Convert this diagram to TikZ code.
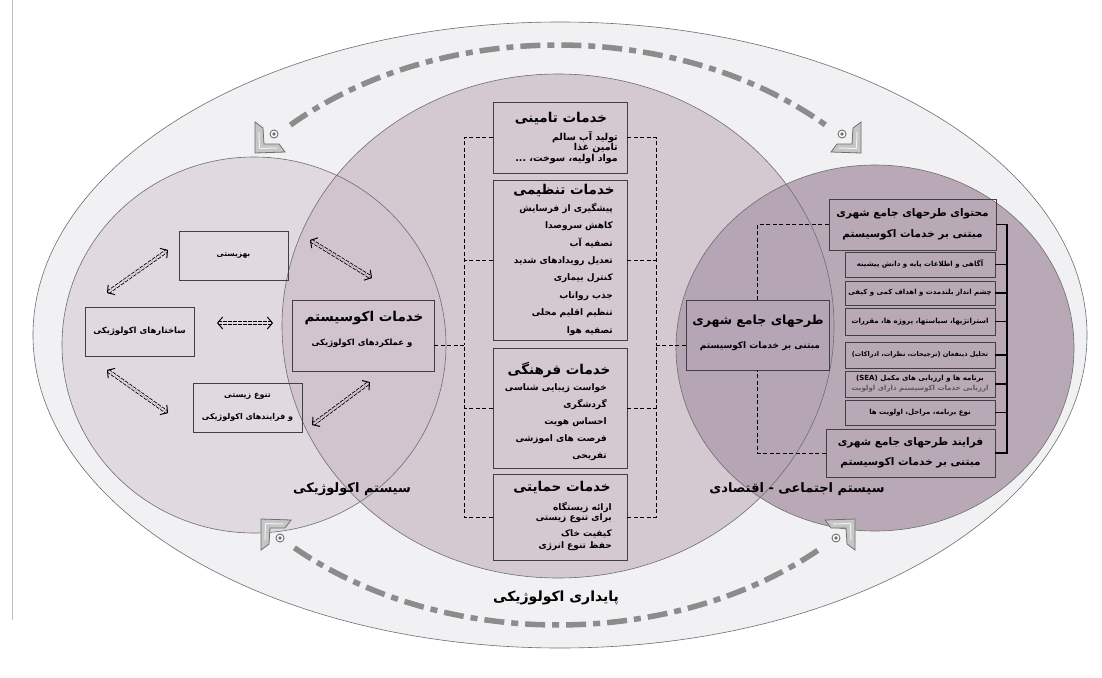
\documentclass[tikz,border=0pt]{standalone}
\usepackage{fontspec}
\newfontfamily\farsi[Script=Arabic]{DejaVu Sans}
\TeXXeTstate=1
\usetikzlibrary{arrows.meta,positioning}
\newcommand{\fatext}[1]{\beginR #1\endR}
\definecolor{outerfill}{HTML}{F1F0F2}
\definecolor{ecofill}{HTML}{E0D9DF}
\definecolor{midfill}{HTML}{CFC1CC}
\definecolor{socfill}{HTML}{B3A2B1}
\definecolor{trackgray}{HTML}{8C8C8C}
\definecolor{rimgray}{HTML}{6E6E6E}
\tikzset{
    trackicon/.pic={
        \draw[rimgray, line width=0.8pt, fill=gray!45]
            (0,0) -- (30,1) -- (24,9) -- (9,9) -- (8,25) -- (0,31) -- cycle;
        \draw[white!90!gray, line width=1pt] (4.5,4.5) -- (22,5) (4.5,4.5) -- (4,21);
        \draw[rimgray, line width=0.9pt, fill=white] (19,19) circle (4pt);
        \fill[rimgray] (19,19) circle (1.8pt);
    }
}
\begin{document}
\begin{tikzpicture}[
                    x=1pt, y=-1pt,
                    rim/.style={draw=rimgray, line width=0.6pt},
                    box/.style={draw=black!75, line width=0.6pt, inner sep=0pt},
                    svcbox/.style={box, minimum width=134pt},
                    sidebox/.style={box, minimum width=150pt},
                    titletext/.style={font=\farsi\bfseries\fontsize{13.5}{15}\selectfont, inner sep=0pt},
                    bodytext/.style={font=\farsi\bfseries\fontsize{9}{17.4}\selectfont, align=right, inner sep=0pt},
                    smalltext/.style={font=\farsi\bfseries\fontsize{7}{9.5}\selectfont, inner sep=0pt, align=center},
                    syslabel/.style={font=\farsi\bfseries\fontsize{13}{15}\selectfont, inner sep=0pt},
                    bracket/.style={draw=black, line width=1pt, dash pattern=on 4pt off 2.5pt},
                    spine/.style={draw=black, line width=1.5pt},
                    track/.style={draw=trackgray, line width=5.5pt, dash pattern=on 20pt off 7pt on 7pt off 7pt},
                    dblarrow/.style={draw=black, line width=0.8pt, double=ecofill, double distance=2.2pt,
                        dash pattern=on 3.5pt off 1.5pt,
                        {Straight Barb[length=5pt, width=12pt, line width=1pt]}-{Straight Barb[length=5pt, width=12pt, line width=1pt]}}
                ]
    \useasboundingbox (0,0) rectangle (1102,677);
    \fill[white] (0,0) rectangle (1102,677);
    \draw[gray!50, line width=0.6pt] (12,0) -- (12,620);

    % circles
    \coordinate (c-outer) at (560,335);
    \coordinate (c-eco) at (254,345);
    \coordinate (c-mid) at (558,326);
    \coordinate (c-soc) at (875,348);
    \fill[outerfill] (c-outer) ellipse [x radius=527pt, y radius=313pt];
    \fill[ecofill] (c-eco) ellipse [x radius=192pt, y radius=188pt];
    \fill[midfill, fill opacity=0.85] (c-mid) ellipse [x radius=276pt, y radius=252pt];
    \fill[socfill, fill opacity=0.9] (c-soc) ellipse [x radius=199pt, y radius=183pt];
    \draw[rim] (c-outer) ellipse [x radius=527pt, y radius=313pt];
    \draw[rim] (c-eco) ellipse [x radius=192pt, y radius=188pt];
    \draw[rim] (c-mid) ellipse [x radius=276pt, y radius=252pt];
    \draw[rim] (c-soc) ellipse [x radius=199pt, y radius=183pt];

    % dashed track
    \coordinate (c-track) at (558,335);
    \draw[track] (c-track) ++(133.6:388pt and 290pt)
        arc [start angle=133.6, end angle=46.4, x radius=388pt, y radius=290pt];
    \draw[track] (c-track) ++(227.2:388pt and 290pt)
        arc [start angle=227.2, end angle=312.8, x radius=388pt, y radius=290pt];
    \pic[yscale=-1] (icon-tl) at (255,153) {trackicon};
    \pic[xscale=-1, yscale=-1] (icon-tr) at (861,153) {trackicon};
    \pic (icon-bl) at (261,519) {trackicon};
    \pic[xscale=-1] (icon-br) at (855,519) {trackicon};

    % ecological side
    \node[box, minimum width=109pt, minimum height=49pt] (welfare) at (233.5,255.5)
        {\farsi\bfseries\fontsize{7.5}{9}\selectfont\fatext{بهزیستی}};
    \node[box, minimum width=109pt, minimum height=49pt] (struct) at (139.5,331.5)
        {\farsi\bfseries\fontsize{8.5}{10}\selectfont\fatext{ساختارهای اکولوژیکی}};
    \node[box, minimum width=109pt, minimum height=49pt, align=center,
          font=\farsi\bfseries\fontsize{8}{22}\selectfont] (biodiv) at (247.5,407.5)
        {\fatext{تنوع زیستی}\\\fatext{و فرایندهای اکولوژیکی}};
    \node[box, minimum width=142pt, minimum height=71pt] (eco) at (363,335.5) {};
    \node[titletext, font=\farsi\bfseries\fontsize{13.5}{15}\selectfont] (ecoT) at (364,318) {\fatext{خدمات اکوسیستم}};
    \node[inner sep=0pt, font=\farsi\bfseries\fontsize{8.5}{10}\selectfont] (ecoS) at (362,343) {\fatext{و عملکردهای اکولوژیکی}};

    \coordinate (a1s) at (107,293); \coordinate (a1e) at (168,250);
    \coordinate (a2s) at (217,323); \coordinate (a2e) at (273,323);
    \coordinate (a3s) at (107,370); \coordinate (a3e) at (168,413);
    \coordinate (a4s) at (310,240); \coordinate (a4e) at (372,278);
    \coordinate (a5s) at (312,425); \coordinate (a5e) at (370,382);
    \foreach \i in {1,...,3}
        \draw[dblarrow] (a\i s) -- (a\i e);
    \foreach \i in {4,5}
        \draw[dblarrow, double=midfill!92!ecofill] (a\i s) -- (a\i e);

    % ecosystem services
    \node[svcbox, minimum height=71pt] (prov) at (560,137.5) {};
    \node[titletext] (provT) at (561,118) {\fatext{خدمات تامینی}};
    \node[bodytext, font=\farsi\bfseries\fontsize{9.5}{10.5}\selectfont, anchor=north east] (provB) at (618,131)
        {\fatext{تولید آب سالم}\\\fatext{تامین غذا}\\\fatext{مواد اولیه، سوخت، ...}};

    \node[svcbox, minimum height=160pt] (reg) at (560,260) {};
    \node[titletext] (regT) at (564,190) {\fatext{خدمات تنظیمی}};
    \node[bodytext, anchor=north east] (regB) at (613,203)
        {\fatext{پیشگیری از فرسایش}\\\fatext{کاهش سروصدا}\\\fatext{تصفیه آب}\\\fatext{تعدیل رویدادهای شدید}\\
         \fatext{کنترل بیماری}\\\fatext{جذب رواناب}\\\fatext{تنظیم اقلیم محلی}\\\fatext{تصفیه هوا}};

    \node[svcbox, minimum height=120pt] (cult) at (560,408) {};
    \node[titletext] (cultT) at (559,370) {\fatext{خدمات فرهنگی}};
    \node[bodytext, font=\farsi\bfseries\fontsize{9}{17}\selectfont, anchor=north east] (cultB) at (607,383)
        {\fatext{خواست زیبایی شناسی}\\\fatext{گردشگری}\\\fatext{احساس هویت}\\\fatext{فرصت های اموزشی}\\\fatext{تفریحی}};

    \node[svcbox, minimum height=86pt] (supp) at (560,517) {};
    \node[titletext] (suppT) at (562,487) {\fatext{خدمات حمایتی}};
    \node[bodytext, font=\farsi\bfseries\fontsize{9}{12}\selectfont, anchor=north east] (suppB) at (612,502)
        {\fatext{ارائه زیستگاه}\\[-2pt]\fatext{برای تنوع زیستی}\\[4pt]\fatext{کیفیت خاک}\\\fatext{حفظ تنوع انرژی}};

    % urban plans
    \node[box, minimum width=143pt, minimum height=70pt] (plan) at (757.5,335) {};
    \node[titletext, font=\farsi\bfseries\fontsize{12.5}{16}\selectfont] (planT) at (758,321) {\fatext{طرحهای جامع شهری}};
    \node[inner sep=0pt, font=\farsi\bfseries\fontsize{9}{11}\selectfont] (planS) at (760,346) {\fatext{مبتنی بر خدمات اکوسیستم}};

    \node[box, minimum width=167pt, minimum height=51pt, align=center,
          font=\farsi\bfseries\fontsize{10.5}{21}\selectfont] (cont) at (912.5,224.5)
        {\fatext{محتوای طرحهای جامع شهری}\\\fatext{مبتنی بر خدمات اکوسیستم}};
    \node[sidebox, minimum height=25pt, smalltext] (aware) at (920,264.5) {\fatext{آگاهی و اطلاعات پایه و دانش پیشینه}};
    \node[sidebox, minimum height=24pt, smalltext] (vision) at (920,293) {\fatext{چشم انداز بلندمدت و اهداف کمی و کیفی}};
    \node[sidebox, minimum height=27pt, smalltext] (strat) at (920,321.5) {\fatext{استراتژیها، سیاستها، پروژه ها، مقررات}};
    \node[sidebox, minimum height=26pt, smalltext, font=\farsi\bfseries\fontsize{6.5}{9}\selectfont] (stake) at (920,355) {\fatext{تحلیل ذینفعان (ترجیحات، نظرات، ادراکات)}};
    \node[sidebox, minimum height=26pt, smalltext, font=\farsi\bfseries\fontsize{7}{10}\selectfont] (sea) at (920,384)
        {\fatext{برنامه ها و ارزیابی های مکمل \beginL(SEA)\endL}\\{\color{black!65}\fatext{ارزیابی خدمات اکوسیستم دارای اولویت}}};
    \node[sidebox, minimum height=25pt, smalltext] (prio) at (920,412.5) {\fatext{نوع برنامه، مراحل، اولویت ها}};
    \node[box, minimum width=169pt, minimum height=48pt, align=center,
          font=\farsi\bfseries\fontsize{10.5}{20}\selectfont] (proc) at (910.5,453)
        {\fatext{فرایند طرحهای جامع شهری}\\\fatext{مبتنی بر خدمات اکوسیستم}};

    % system labels
    \node[syslabel] (ecosys) at (352,489) {\fatext{سیستم اکولوژیکی}};
    \node[syslabel] (socsys) at (797,489) {\fatext{سیستم اجتماعی - اقتصادی}};
    \node[syslabel, font=\farsi\bfseries\fontsize{14}{16}\selectfont] (sustain) at (556,598) {\fatext{پایداری اکولوژیکی}};

    % connectors
    \coordinate (lbr) at (464,345);
    \coordinate (rbr) at (656,345);
    \draw[bracket] (lbr -| eco.east) -- (lbr);
    \draw[bracket] (prov.west) -| (lbr);
    \draw[bracket] (supp.west) -| (lbr);
    \draw[bracket] (reg.west) -- (reg.west -| lbr);
    \draw[bracket] (cult.west) -- (cult.west -| lbr);
    \draw[bracket] (rbr -| plan.west) -- (rbr);
    \draw[bracket] (prov.east) -| (rbr);
    \draw[bracket] (supp.east) -| (rbr);
    \draw[bracket] (reg.east) -- (reg.east -| rbr);
    \draw[bracket] (cult.east) -- (cult.east -| rbr);

    \draw[bracket] (cont.west) -| (plan.north);
    \draw[bracket] (proc.west) -| (plan.south);
    \coordinate (spine) at (1007,335);
    \draw[spine] (cont.east) -| (spine) |- (proc.east);
    \foreach \b in {aware,vision,strat,stake,sea,prio}
        \draw[spine] (\b.east) -- (\b.east -| spine);
\end{tikzpicture}
\end{document}
